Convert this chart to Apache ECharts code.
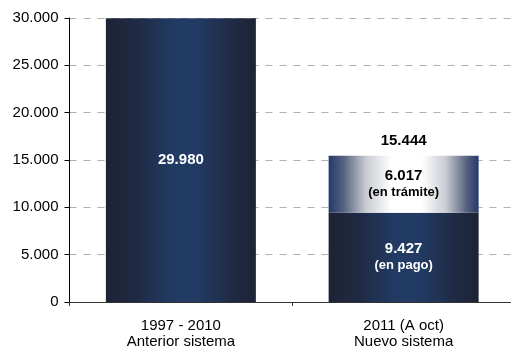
<!DOCTYPE html>
<html>
<head>
<meta charset="utf-8">
<script src="https://cdn.jsdelivr.net/npm/echarts@6/dist/echarts.min.js"></script>
<style>
html,body{margin:0;padding:0;background:#fff;overflow:hidden;width:511px;height:351px;}
#chart{width:515px;height:351px;}
</style>
</head>
<body>
<div id="chart"></div>
<script>
var categories = ['1997 - 2010\nAnterior sistema', '2011 (A oct)\nNuevo sistema'];
var enPago = [29980, 9427];
var enTramite = [null, 6017];
var pagoNotes = ['', '(en pago)'];
var tramiteNotes = ['', '(en trámite)'];
var yTicks = [0, 5000, 10000, 15000, 20000, 25000, 30000];

var totals = categories.map(function (c, i) {
  return enTramite[i] == null ? null : enPago[i] + enTramite[i];
});

function fmt(v) {
  return String(Math.round(v)).replace(/\B(?=(\d{3})+(?!\d))/g, '.');
}

var FONT = '"Liberation Sans", Arial, sans-serif';
var chart = echarts.init(document.getElementById('chart'), null, {renderer: 'canvas'});

var darkGrad = new echarts.graphic.LinearGradient(0, 0, 1, 0, [
  {offset: 0, color: '#1e2334'},
  {offset: 0.2, color: '#1f2a44'},
  {offset: 0.45, color: '#223b64'},
  {offset: 0.6, color: '#223b64'},
  {offset: 0.85, color: '#1f2a44'},
  {offset: 1, color: '#1e2334'}
]);
var lightGrad = new echarts.graphic.LinearGradient(0, 0, 1, 0, [
  {offset: 0, color: '#253a6b'},
  {offset: 0.1, color: '#56627e'},
  {offset: 0.25, color: '#c9ccd3'},
  {offset: 0.42, color: '#ffffff'},
  {offset: 0.62, color: '#ffffff'},
  {offset: 0.78, color: '#c9ccd3'},
  {offset: 0.92, color: '#56627e'},
  {offset: 1, color: '#253a6b'}
]);

chart.setOption({
  animation: false,
  textStyle: {fontFamily: FONT},
  grid: {left: 69.5, right: 0, top: 18, bottom: 49, containLabel: false},
  xAxis: {
    type: 'category',
    data: categories,
    boundaryGap: true,
    axisLine: {show: true, lineStyle: {color: '#333', width: 1}},
    axisTick: {show: true, length: 4, lineStyle: {color: '#333'}},
    axisLabel: {
      color: '#000', fontSize: 15, lineHeight: 16, margin: 16, fontFamily: FONT
    },
    splitLine: {show: false}
  },
  yAxis: {
    type: 'value',
    min: yTicks[0],
    max: yTicks[yTicks.length - 1],
    interval: yTicks[1] - yTicks[0],
    axisLine: {show: true, lineStyle: {color: '#000', width: 1}},
    axisTick: {show: true, length: 5, lineStyle: {color: '#000'}},
    axisLabel: {
      color: '#000', fontSize: 15, margin: 11, fontFamily: FONT,
      formatter: function (v) { return fmt(v); }
    },
    splitLine: {show: true, lineStyle: {color: '#b0b0b0', type: [7, 7], width: 1}}
  },
  series: [
    {
      type: 'bar',
      stack: 'total',
      barWidth: 150,
      data: enPago,
      itemStyle: {color: darkGrad},
      label: {
        show: true,
        position: 'inside',
        fontFamily: FONT,
        formatter: function (p) {
          var note = pagoNotes[p.dataIndex];
          return note ? '{v|' + fmt(p.value) + '}\n{n|' + note + '}' : '{v|' + fmt(p.value) + '}';
        },
        rich: {
          v: {color: '#fff', fontSize: 15, fontWeight: 'bold', lineHeight: 17, fontFamily: FONT},
          n: {color: '#fff', fontSize: 13, fontWeight: 'bold', lineHeight: 17, fontFamily: FONT}
        }
      }
    },
    {
      type: 'bar',
      stack: 'total',
      barWidth: 150,
      data: enTramite,
      itemStyle: {color: lightGrad},
      label: {
        show: true,
        position: 'inside',
        fontFamily: FONT,
        formatter: function (p) {
          return '{v|' + fmt(p.value) + '}\n{n|' + tramiteNotes[p.dataIndex] + '}';
        },
        rich: {
          v: {color: '#000', fontSize: 15, fontWeight: 'bold', lineHeight: 17, fontFamily: FONT},
          n: {color: '#000', fontSize: 13, fontWeight: 'bold', lineHeight: 17, fontFamily: FONT}
        }
      }
    },
    {
      type: 'bar',
      barWidth: 150,
      barGap: '-100%',
      data: totals,
      z: 0,
      itemStyle: {color: 'rgba(0,0,0,0)'},
      label: {
        show: true,
        position: 'top',
        distance: 7,
        color: '#000',
        fontSize: 15,
        fontWeight: 'bold',
        fontFamily: FONT,
        formatter: function (p) { return p.value == null ? '' : fmt(p.value); }
      }
    }
  ]
});
</script>
</body>
</html>
